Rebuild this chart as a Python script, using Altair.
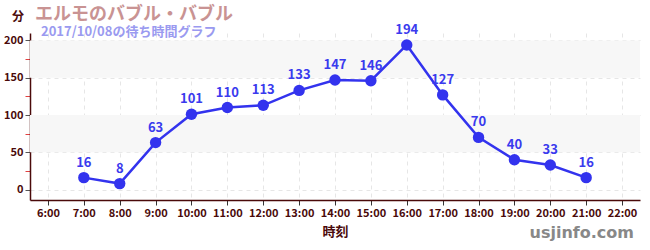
import altair as alt
import pandas as pd

hours = [7, 8, 9, 10, 11, 12, 13, 14, 15, 16, 17, 18, 19, 20, 21]
waits = [16, 8, 63, 101, 110, 113, 133, 147, 146, 194, 127, 70, 40, 33, 16]
band_lo = [50, 150]
band_hi = [100, 200]
x_ticks = list(range(6, 23))
y_ticks = list(range(0, 201, 25))

df = pd.DataFrame({"hour": hours, "wait": waits})
bands = pd.DataFrame({"lo": band_lo, "hi": band_hi})

FONT = "Noto Sans CJK JP"
AXC = "#4a0a0a"

xs = alt.Scale(domain=[5.5, 22.5], nice=False, zero=False)
ys = alt.Scale(domain=[-14, 210], nice=False, zero=False)

xaxis = alt.Axis(values=x_ticks, labelExpr="datum.value + ':00'", title="時刻",
                 titleFont=FONT, titleFontSize=13, titleFontWeight="bold", titleColor=AXC,
                 titlePadding=7, labelFont=FONT, labelFontSize=11, labelFontWeight="bold",
                 labelColor=AXC, domainColor=AXC, domainWidth=1.5, tickColor="#333",
                 grid=True, gridDash=[4, 4], gridColor="#e6e6e6", labelPadding=2)
yaxis = alt.Axis(values=y_ticks, labelExpr="datum.value % 50 == 0 ? datum.label : ''",
                 title=None, labelFont=FONT, labelFontSize=11, labelFontWeight="bold",
                 labelColor=AXC, domainColor=AXC, domainWidth=1.5,
                 tickColor={"condition": {"test": "datum.value % 50 != 0", "value": "#e04040"}, "value": "#555"},
                 grid=True, gridDash=[4, 4],
                 gridColor={"condition": {"test": "datum.value % 50 != 0", "value": "transparent"}, "value": "#e6e6e6"},
                 labelPadding=2)

band = alt.Chart(bands).mark_rect(color="#f7f7f7").encode(
    x=alt.value(0), x2=alt.value(610),
    y=alt.Y("lo:Q", scale=ys, axis=yaxis), y2="hi:Q")

base = alt.Chart(df).encode(
    x=alt.X("hour:Q", scale=xs, axis=xaxis),
    y=alt.Y("wait:Q", scale=ys, axis=yaxis))

line = base.mark_line(color="#3333ee", strokeWidth=2.5)
pts = base.mark_circle(color="#3333ee", size=130, opacity=1)
lbl = base.mark_text(color="#3a3aee", font=FONT, fontSize=13, fontWeight="bold", dy=-15).encode(text="wait:Q")

def txt(s, x, y, size, color, align="left", weight="bold", font=FONT):
    return alt.Chart(pd.DataFrame({"t": [s]})).mark_text(
        font=font, fontSize=size, fontWeight=weight, color=color, align=align, baseline="middle"
    ).encode(text="t:N", x=alt.value(x), y=alt.value(y))

title = txt("エルモのバブル・バブル", 5, -18, 18, "#c99393")
sub = txt("2017/10/08の待ち時間グラフ", 11, -1, 13, "#9a9af0")
fen = txt("分", -18, -16, 12, AXC)
site = txt("usjinfo.com", 604, 200, 16, "#888888", align="right", font="DejaVu Sans")

chart = alt.layer(band, line, pts, lbl, title, sub, fen, site).properties(
    width=610, height=167,
    autosize=alt.AutoSizeParams(type="none"),
    padding={"left": 30, "top": 33, "right": 10, "bottom": 50},
    background="white"
).configure_view(stroke=None)

chart.save("out.html", embed_options={"renderer": "svg", "actions": False})
